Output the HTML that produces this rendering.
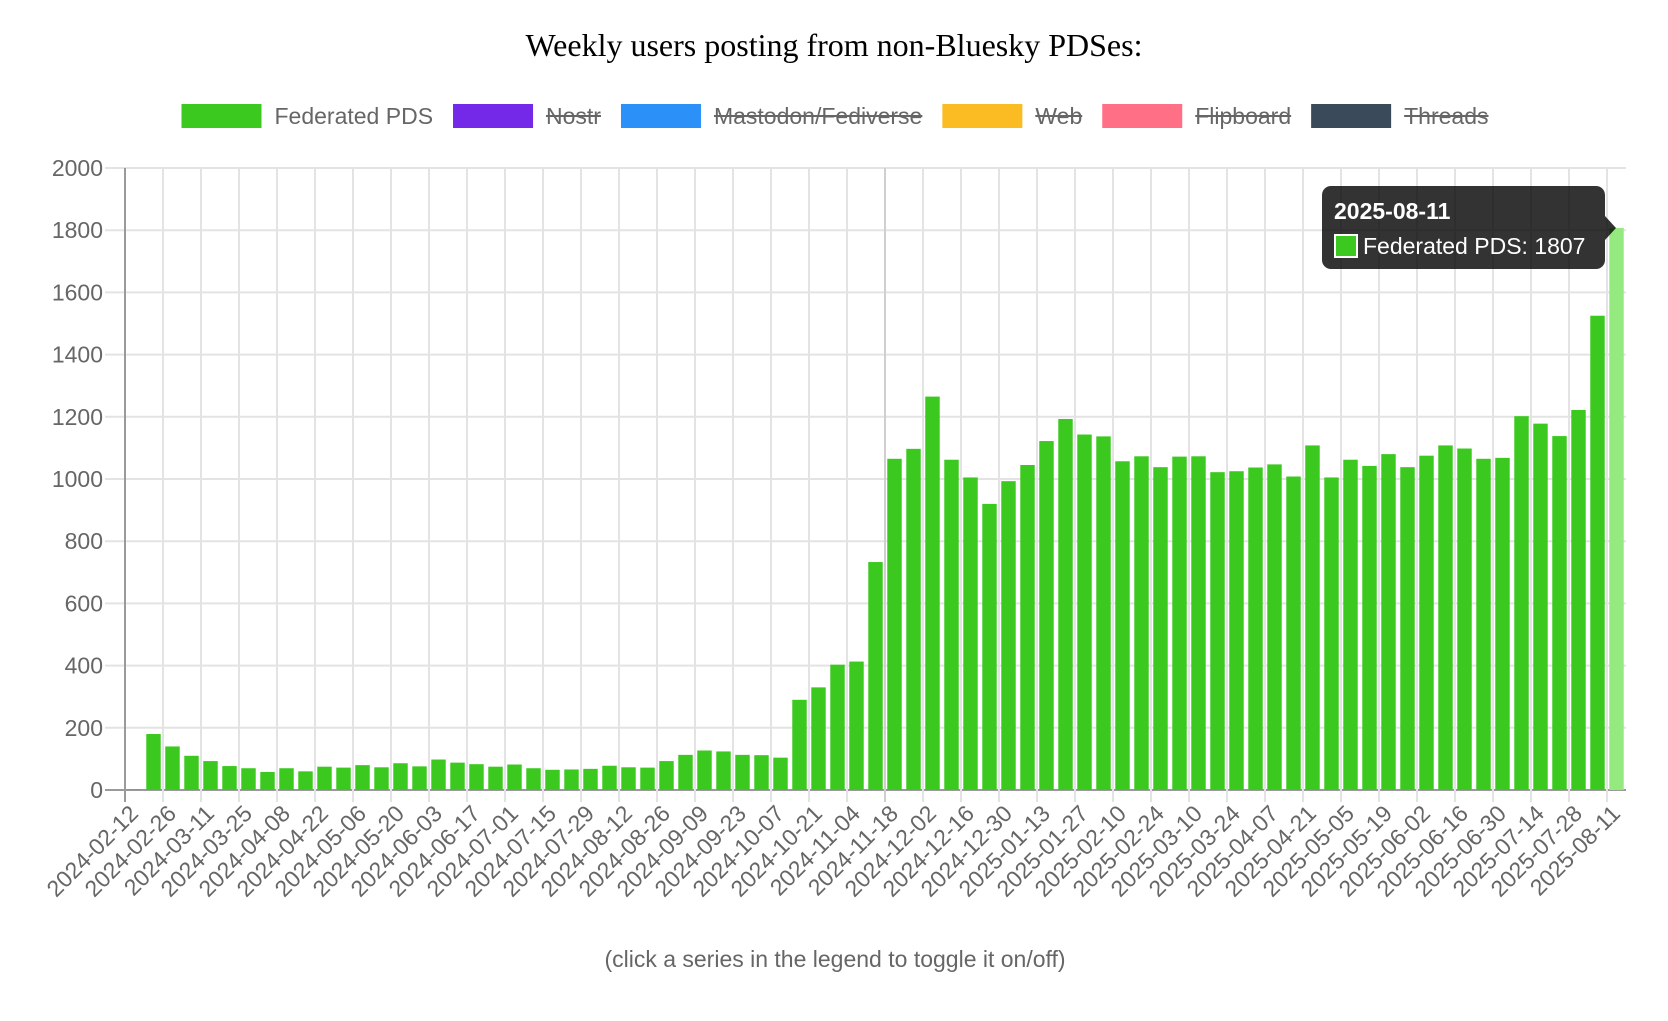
<!DOCTYPE html>
<html><head><meta charset="utf-8">
<style>
html,body{margin:0;padding:0;background:#fff;}
body{width:1668px;height:1016px;overflow:hidden;position:relative;font-family:"Liberation Sans",Arial,sans-serif;}
</style></head>
<body>
<svg id="chart" width="1668" height="1016" viewBox="0 0 1668 1016" xmlns="http://www.w3.org/2000/svg">
  <text x="834" y="56" text-anchor="middle" font-family="Liberation Serif, serif" font-size="32" fill="#000">Weekly users posting from non-Bluesky PDSes:</text>
  <g id="legend"></g>
  <g id="grid"></g>
  <g id="bars"></g>
  <g id="xlabels"></g>
  <g id="ylabels"></g>
  <g id="tooltip">
    <rect x="1322" y="186" width="283" height="83" rx="9" fill="rgba(0,0,0,0.8)"/>
    <path d="M1605 216 L1616 228 L1605 240 Z" fill="rgba(0,0,0,0.8)"/>
    <text x="1334" y="219" font-size="23" font-weight="bold" fill="#fff">2025-08-11</text>
    <rect x="1335" y="235" width="22" height="22" fill="#3bc91f" stroke="#fff" stroke-width="2"/>
    <text x="1363" y="254" font-size="23" fill="#fff">Federated PDS: 1807</text>
  </g>
  <text x="835" y="967" text-anchor="middle" font-size="23" fill="#666">(click a series in the legend to toggle it on/off)</text>
</svg>
<script>
const weeks = [
"2024-02-12","2024-02-19","2024-02-26","2024-03-04","2024-03-11","2024-03-18","2024-03-25","2024-04-01","2024-04-08","2024-04-15",
"2024-04-22","2024-04-29","2024-05-06","2024-05-13","2024-05-20","2024-05-27","2024-06-03","2024-06-10","2024-06-17","2024-06-24",
"2024-07-01","2024-07-08","2024-07-15","2024-07-22","2024-07-29","2024-08-05","2024-08-12","2024-08-19","2024-08-26","2024-09-02",
"2024-09-09","2024-09-16","2024-09-23","2024-09-30","2024-10-07","2024-10-14","2024-10-21","2024-10-28","2024-11-04","2024-11-11",
"2024-11-18","2024-11-25","2024-12-02","2024-12-09","2024-12-16","2024-12-23","2024-12-30","2025-01-06","2025-01-13","2025-01-20",
"2025-01-27","2025-02-03","2025-02-10","2025-02-17","2025-02-24","2025-03-03","2025-03-10","2025-03-17","2025-03-24","2025-03-31",
"2025-04-07","2025-04-14","2025-04-21","2025-04-28","2025-05-05","2025-05-12","2025-05-19","2025-05-26","2025-06-02","2025-06-09",
"2025-06-16","2025-06-23","2025-06-30","2025-07-07","2025-07-14","2025-07-21","2025-07-28","2025-08-04","2025-08-11"];
const federatedPds = [
2,180,140,110,93,77,70,58,70,60,
75,72,80,73,86,76,98,88,83,75,
82,70,65,66,68,78,73,72,93,113,
127,124,113,112,104,290,330,403,413,733,
1065,1097,1265,1062,1005,920,993,1045,1122,1193,
1143,1137,1057,1073,1038,1072,1073,1022,1025,1037,
1047,1008,1108,1005,1062,1042,1080,1038,1075,1108,
1098,1065,1068,1202,1178,1138,1222,1525,1807];
const yTicks = [0,200,400,600,800,1000,1200,1400,1600,1800,2000];
const legendNames = ["Federated PDS","Nostr","Mastodon/Fediverse","Web","Flipboard","Threads"];
const legendColors = ["#3bc91f","#7429e8","#2b91f9","#fbbc23","#ff6f86","#3b4a5a"];
const legendHidden = [false,true,true,true,true,true];

const NS="http://www.w3.org/2000/svg";
const L=125, R=1626, TOP=168, BOT=790, YMAX=2000;
const slot=(R-L)/weeks.length;
function xPos(i){return L+slot*(i+0.5);}
function yPos(v){return BOT-(v/YMAX)*(BOT-TOP);}
function mk(tag,attrs,parent){const e=document.createElementNS(NS,tag);for(const k in attrs)e.setAttribute(k,attrs[k]);parent.appendChild(e);return e;}

const grid=document.getElementById('grid');
yTicks.forEach(t=>{
  const ln=mk('line',{x1:105,x2:R,y1:yPos(t),y2:yPos(t),stroke:t===0?'#9a9a9a':'#e3e3e3','stroke-width':2},grid);
  
  
  const tx=mk('text',{x:103,y:yPos(t)+8,'text-anchor':'end','font-size':23,fill:'#666'},document.getElementById('ylabels'));
  tx.textContent=t;
  
  
});
for(let i=0;i<=weeks.length;i+=2){
  const x=L+slot*i;
  const ln=mk('line',{x1:x,x2:x,y1:TOP,y2:BOT+12,stroke:i===40?'#cfcfcf':'#e3e3e3','stroke-width':2},grid);
  
  
}
const ax=mk('line',{x1:L,x2:L,y1:TOP,y2:BOT+12,stroke:'#9a9a9a','stroke-width':2},grid);



const bars=document.getElementById('bars');
const bw=slot*0.76;
federatedPds.forEach((v,i)=>{
  const last=i===federatedPds.length-1;
  const r=mk('rect',{x:xPos(i)-bw/2,y:yPos(v),width:bw,height:BOT-yPos(v),fill:last?'#94e97f':'#3bc91f'},bars);
  
  
});

const xl=document.getElementById('xlabels');
weeks.forEach((w,i)=>{
  if(i%2)return;
  const x=xPos(i)+5, y=815;
  const t=mk('text',{x:x,y:y,'text-anchor':'end','font-size':23,fill:'#666',transform:`rotate(-45 ${x} ${y})`},xl);
  t.textContent=w;
  
  
});

const lg=document.getElementById('legend');
const cvs=document.createElement('canvas').getContext('2d');
cvs.font='23px "Liberation Sans", Arial, sans-serif';
const widths=legendNames.map(n=>80+13+cvs.measureText(n).width);
const total=widths.reduce((a,b)=>a+b,0)+20*(widths.length-1);
let cx=835-total/2;
legendNames.forEach((n,i)=>{
  const g=mk('g',{},lg);
  
  
  mk('rect',{x:cx,y:104,width:80,height:24,fill:legendColors[i]},g);
  const t=mk('text',{x:cx+93,y:124,'font-size':23,fill:'#666'},g);
  t.textContent=n;
  if(legendHidden[i]){
    const tw=cvs.measureText(n).width;
    mk('line',{x1:cx+93,x2:cx+93+tw,y1:116,y2:116,stroke:'#666','stroke-width':2},g);
  }
  cx+=widths[i]+20;
});
</script>
</body></html>
